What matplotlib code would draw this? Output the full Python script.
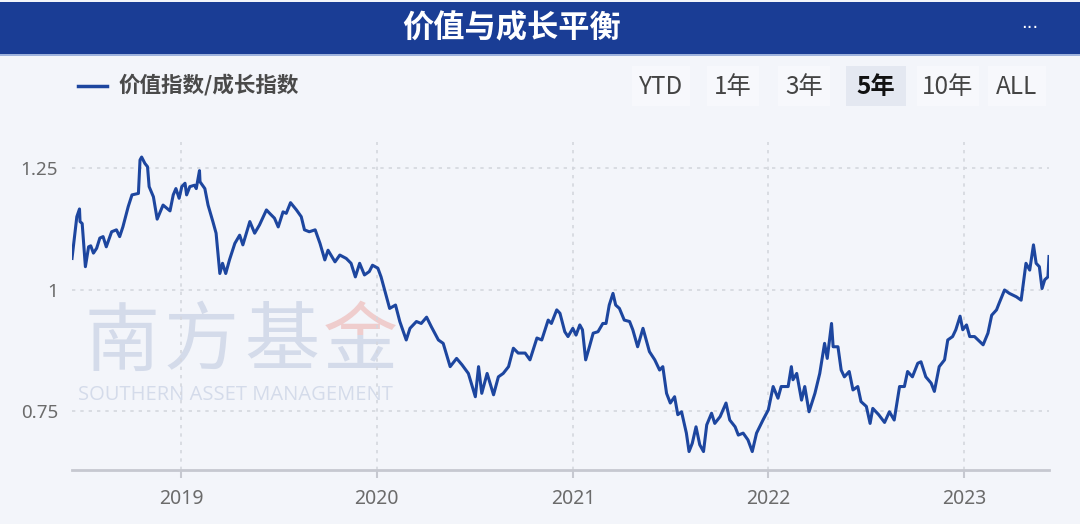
import matplotlib
matplotlib.use("Agg")
import matplotlib.pyplot as plt
from matplotlib.patches import Rectangle, FancyBboxPatch
from matplotlib.lines import Line2D
from matplotlib.transforms import Bbox
import pandas as pd

plt.rcParams['font.family'] = ['Noto Sans CJK SC', 'DejaVu Sans']

title = "价值与成长平衡"
series_name = "价值指数/成长指数"
range_buttons = ["YTD", "1年", "3年", "5年", "10年", "ALL"]
active_button = "5年"
y_ticks = [0.75, 1.0, 1.25]
y_tick_labels = ["0.75", "1", "1.25"]
x_ticks = ["2019-01-01", "2020-01-01", "2021-01-01", "2022-01-01", "2023-01-01"]
x_tick_labels = ["2019", "2020", "2021", "2022", "2023"]
watermark_cn = ["南", "方", "基", "金"]
watermark_en = "SOUTHERN ASSET MANAGEMENT"

dates = [
    "2018-06-11", "2018-06-20", "2018-06-25", "2018-06-26", "2018-06-30", "2018-07-06", "2018-07-12", "2018-07-16",
    "2018-07-21", "2018-07-27", "2018-08-02", "2018-08-08", "2018-08-14", "2018-08-24", "2018-09-02", "2018-09-08",
    "2018-09-14", "2018-09-24", "2018-10-01", "2018-10-13", "2018-10-16", "2018-10-19", "2018-10-25", "2018-10-30",
    "2018-11-02", "2018-11-10", "2018-11-17", "2018-11-28", "2018-12-11", "2018-12-17", "2018-12-22", "2018-12-28",
    "2019-01-02", "2019-01-08", "2019-01-11", "2019-01-17", "2019-01-26", "2019-01-29", "2019-02-04", "2019-02-05",
    "2019-02-14", "2019-02-20", "2019-03-01", "2019-03-07", "2019-03-14", "2019-03-19", "2019-03-25", "2019-04-01",
    "2019-04-11", "2019-04-20", "2019-04-26", "2019-05-09", "2019-05-18", "2019-05-27", "2019-06-09", "2019-06-15",
    "2019-06-24", "2019-07-01", "2019-07-10", "2019-07-16", "2019-07-24", "2019-08-04", "2019-08-13", "2019-08-19",
    "2019-08-28", "2019-09-08", "2019-09-17", "2019-09-26", "2019-10-02", "2019-10-15", "2019-10-24", "2019-11-05",
    "2019-11-14", "2019-11-22", "2019-11-30", "2019-12-09", "2019-12-18", "2019-12-24", "2020-01-03", "2020-01-09",
    "2020-01-25", "2020-02-05", "2020-02-13", "2020-02-25", "2020-03-03", "2020-03-15", "2020-03-24", "2020-04-03",
    "2020-04-12", "2020-04-25", "2020-05-04", "2020-05-17", "2020-05-29", "2020-06-08", "2020-06-20", "2020-07-03",
    "2020-07-09", "2020-07-15", "2020-07-25", "2020-08-06", "2020-08-15", "2020-08-24", "2020-09-03", "2020-09-12",
    "2020-09-21", "2020-10-04", "2020-10-13", "2020-10-26", "2020-11-04", "2020-11-16", "2020-11-22", "2020-12-02",
    "2020-12-08", "2020-12-17", "2020-12-23", "2021-01-01", "2021-01-07", "2021-01-14", "2021-01-19", "2021-01-25",
    "2021-02-01", "2021-02-08", "2021-02-17", "2021-02-26", "2021-03-04", "2021-03-10", "2021-03-17", "2021-03-22",
    "2021-03-29", "2021-04-07", "2021-04-17", "2021-04-23", "2021-05-02", "2021-05-12", "2021-05-18", "2021-05-24",
    "2021-06-03", "2021-06-12", "2021-06-18", "2021-06-25", "2021-07-02", "2021-07-10", "2021-07-16", "2021-07-23",
    "2021-08-01", "2021-08-06", "2021-08-12", "2021-08-19", "2021-08-26", "2021-09-02", "2021-09-08", "2021-09-17",
    "2021-09-23", "2021-10-03", "2021-10-14", "2021-10-21", "2021-10-31", "2021-11-06", "2021-11-15", "2021-11-24",
    "2021-12-02", "2021-12-10", "2021-12-22", "2022-01-01", "2022-01-10", "2022-01-19", "2022-01-25", "2022-02-07",
    "2022-02-13", "2022-02-16", "2022-02-23", "2022-03-04", "2022-03-10", "2022-03-18", "2022-03-29", "2022-04-07",
    "2022-04-16", "2022-04-21", "2022-04-29", "2022-05-02", "2022-05-11", "2022-05-17", "2022-05-23", "2022-06-01",
    "2022-06-08", "2022-06-17", "2022-06-23", "2022-07-03", "2022-07-10", "2022-07-15", "2022-07-26", "2022-08-06",
    "2022-08-15", "2022-08-24", "2022-09-03", "2022-09-12", "2022-09-18", "2022-09-27", "2022-10-07", "2022-10-13",
    "2022-10-22", "2022-11-01", "2022-11-07", "2022-11-16", "2022-11-26", "2022-12-02", "2022-12-11", "2022-12-17",
    "2022-12-25", "2022-12-30", "2023-01-06", "2023-01-12", "2023-01-21", "2023-02-06", "2023-02-15", "2023-02-22",
    "2023-03-03", "2023-03-08", "2023-03-18", "2023-03-27", "2023-04-09", "2023-04-18", "2023-04-27", "2023-05-04",
    "2023-05-11", "2023-05-16", "2023-05-22", "2023-05-27", "2023-06-01", "2023-06-07", "2023-06-09",
]

values = [
    1.064, 1.150, 1.166, 1.140, 1.136, 1.047, 1.088, 1.090,
    1.075, 1.085, 1.106, 1.109, 1.088, 1.119, 1.123, 1.109,
    1.129, 1.171, 1.195, 1.198, 1.267, 1.273, 1.260, 1.253,
    1.212, 1.191, 1.145, 1.174, 1.162, 1.195, 1.208, 1.188,
    1.212, 1.219, 1.195, 1.212, 1.215, 1.208, 1.245, 1.222,
    1.208, 1.174, 1.140, 1.116, 1.033, 1.054, 1.033, 1.061,
    1.095, 1.112, 1.092, 1.140, 1.116, 1.133, 1.164, 1.157,
    1.147, 1.129, 1.160, 1.157, 1.179, 1.164, 1.150, 1.123,
    1.119, 1.123, 1.095, 1.061, 1.081, 1.057, 1.071, 1.064,
    1.054, 1.026, 1.054, 1.030, 1.037, 1.050, 1.044, 1.026,
    0.961, 0.968, 0.934, 0.896, 0.920, 0.934, 0.930, 0.943,
    0.923, 0.896, 0.889, 0.841, 0.858, 0.845, 0.827, 0.779,
    0.841, 0.786, 0.827, 0.783, 0.820, 0.827, 0.841, 0.879,
    0.869, 0.869, 0.855, 0.900, 0.896, 0.937, 0.930, 0.958,
    0.951, 0.913, 0.903, 0.920, 0.906, 0.927, 0.917, 0.855,
    0.882, 0.910, 0.913, 0.930, 0.930, 0.968, 0.992, 0.968,
    0.961, 0.937, 0.934, 0.917, 0.882, 0.920, 0.896, 0.872,
    0.855, 0.834, 0.841, 0.786, 0.766, 0.779, 0.742, 0.748,
    0.704, 0.666, 0.683, 0.717, 0.680, 0.666, 0.721, 0.745,
    0.724, 0.738, 0.766, 0.731, 0.717, 0.700, 0.704, 0.690,
    0.666, 0.704, 0.731, 0.752, 0.800, 0.776, 0.800, 0.800,
    0.841, 0.814, 0.827, 0.772, 0.800, 0.748, 0.786, 0.827,
    0.889, 0.858, 0.930, 0.882, 0.882, 0.834, 0.820, 0.831,
    0.793, 0.800, 0.769, 0.759, 0.724, 0.755, 0.742, 0.726,
    0.748, 0.731, 0.800, 0.800, 0.831, 0.820, 0.848, 0.851,
    0.820, 0.807, 0.790, 0.841, 0.855, 0.896, 0.903, 0.917,
    0.945, 0.917, 0.927, 0.903, 0.903, 0.886, 0.910, 0.947,
    0.958, 0.972, 0.999, 0.992, 0.985, 0.978, 1.054, 1.040,
    1.092, 1.054, 1.047, 1.002, 1.020, 1.026, 1.068,
]

BG = "#f3f5fa"
LINE = "#1d469f"
BAR = "#1a3d95"
GRID = "#d4d7de"
TXT = "#6b6b6b"

W, H = 1080, 524
fig = plt.figure(figsize=(W / 100, H / 100), dpi=100, facecolor=BG)

# title bar
fig.patches.append(Rectangle((0, 1 - 54 / H), 1, 52 / H, transform=fig.transFigure,
                             facecolor=BAR, edgecolor="none", zorder=0))
fig.patches.append(Rectangle((0, 1 - 56 / H), 1, 2.5 / H, transform=fig.transFigure,
                             facecolor="#9fb3dd", edgecolor="none", zorder=0))
fig.text(512 / W, 1 - 28 / H, title, color="white", fontsize=22.5, fontweight="bold",
         ha="center", va="center")
fig.text(1030 / W, 1 - 28 / H, "...", color="white", fontsize=13, ha="center", va="baseline",
         family=['DejaVu Sans'])

# legend
fig.lines.append(Line2D([78 / W, 107 / W], [1 - 86 / H, 1 - 86 / H], transform=fig.transFigure,
                        color=LINE, linewidth=2.5))
fig.text(119 / W, 1 - 85 / H, series_name, color="#4a4a4a", fontsize=15.5,
         ha="left", va="center", fontweight="bold")

# range buttons
btn_x = [661, 733, 804, 876, 948, 1017]
btn_w = [58, 52, 52, 60, 62, 58]
for label, bx, bw in zip(range_buttons, btn_x, btn_w):
    active = label == active_button
    fc = "#e4e8f1" if active else "#f7f8fc"
    fig.patches.append(FancyBboxPatch(((bx - bw / 2) / W, 1 - 106 / H), bw / W, 40 / H,
                                      boxstyle="square,pad=0", transform=fig.transFigure,
                                      facecolor=fc, edgecolor="none", zorder=0))
    fig.text(bx / W, 1 - 87 / H, label, color="#111111" if active else "#444444",
             fontsize=17.5, fontweight="bold" if active else "normal",
             ha="center", va="center")

# watermark
wm = "#d4dbea"
wm_pink = "#efcdcd"
wm_cx = [122, 201, 282, 360]
wm_y = 1 - 343 / H
for ch, cx in zip(watermark_cn, wm_cx):
    if ch == "金":
        t1 = fig.text(cx / W, wm_y, ch, color=wm, fontsize=54, ha="center", va="center",
                      fontweight="medium", zorder=1)
        t1.set_clip_box(Bbox.from_extents(0, 0, W, H - 335))
        t2 = fig.text(cx / W, wm_y, ch, color=wm_pink, fontsize=54, ha="center",
                      va="center", fontweight="medium", zorder=1)
        t2.set_clip_box(Bbox.from_extents(0, H - 335, W, H))
    else:
        fig.text(cx / W, wm_y, ch, color=wm, fontsize=54, ha="center", va="center",
                 fontweight="medium", zorder=1)
fig.text(78 / W, 1 - 395 / H, watermark_en, color=wm, fontsize=14.5,
         ha="left", va="center", zorder=1, family=['Open Sans', 'DejaVu Sans'])

# axes
ax = fig.add_axes([72 / W, 1 - 470 / H, (1049 - 72) / W, (470 - 142) / H])
ax.set_facecolor("none")
ax.set_zorder(2)
d = pd.to_datetime(dates)
ax.plot(d, values, color=LINE, linewidth=2.2, solid_joinstyle="round")

ax.set_xlim(pd.Timestamp(dates[0]), pd.Timestamp(dates[-1]))
ax.set_ylim(0.628, 1.304)

ax.set_yticks(y_ticks)
ax.set_yticklabels(y_tick_labels)
xt = pd.to_datetime(x_ticks)
ax.set_xticks(xt)
ax.set_xticklabels(x_tick_labels)

for yv in y_ticks:
    ax.axhline(yv, color=GRID, linestyle=(0, (2, 3)), linewidth=1.2, zorder=0)
for xv in xt:
    ax.axvline(xv, color=GRID, linestyle=(0, (2, 3)), linewidth=1.2, zorder=0)

for s in ["top", "right", "left"]:
    ax.spines[s].set_visible(False)
ax.spines["bottom"].set_color("#c6c8d0")
ax.spines["bottom"].set_linewidth(2)

ax.tick_params(axis="y", length=0, pad=10, labelsize=13.5, labelcolor=TXT)
ax.tick_params(axis="x", length=6, width=1.5, color="#c6c8d0", pad=8,
               labelsize=14, labelcolor=TXT)
for lbl in ax.get_xticklabels() + ax.get_yticklabels():
    lbl.set_family(['Noto Sans', 'DejaVu Sans'])

fig.savefig("out.png", dpi=100, facecolor=BG)
